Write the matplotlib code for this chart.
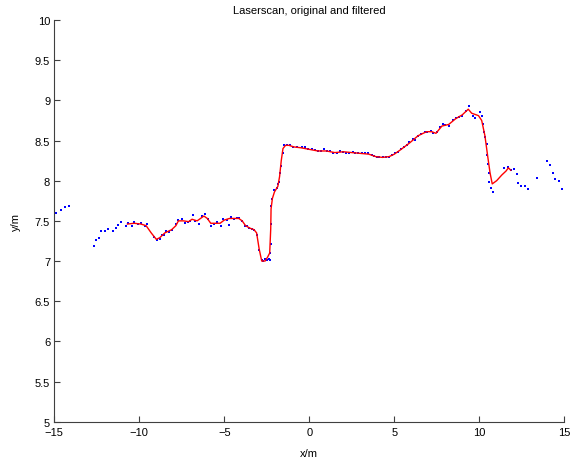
import matplotlib
matplotlib.use('Agg')
import matplotlib.pyplot as plt

# Rohdaten des Laserscans (x, y in Metern)
scan_x = [-14.90, -14.62, -14.39, -14.14,
          -12.66, -12.54, -12.35, -12.23, -12.00, -11.82, -11.55, -11.39, -11.24, -11.08,
          -10.80, -10.65, -10.41, -10.29, -10.06, -9.90, -9.66, -9.53, -9.14, -8.94,
          -8.78, -8.68, -8.55, -8.45, -8.25, -8.06, -7.84, -7.74, -7.51, -7.31,
          -7.15, -7.02, -6.82, -6.72, -6.49, -6.33, -6.14, -5.98, -5.80, -5.59,
          -5.41, -5.21, -5.06, -4.86, -4.72, -4.61, -4.43, -4.27, -4.14, -3.98,
          -3.78, -3.65, -3.53, -3.39, -3.25, -3.09, -2.94, -2.78, -2.71, -2.61,
          -2.51, -2.39, -2.31, -2.31, -2.25, -2.25, -2.27, -2.18, -2.08, -1.92,
          -1.82, -1.76, -1.72, -1.65, -1.56, -1.49, -1.33, -1.14, -0.94, -0.71,
          -0.45, -0.25, -0.06, 0.14, 0.34, 0.49, 0.68, 0.88, 1.02, 1.22,
          1.41, 1.61, 1.81, 1.96, 2.16, 2.36, 2.55, 2.69, 2.88, 3.08,
          3.28, 3.48, 3.67, 3.81, 3.96, 4.12, 4.32, 4.52, 4.71, 4.85,
          5.04, 5.24, 5.39, 5.57, 5.73, 5.88, 6.12, 6.20, 6.38, 6.55,
          6.81, 6.94, 7.14, 7.29, 7.49, 7.69, 7.85, 7.98, 8.24, 8.47,
          8.63, 8.82, 8.96, 9.20, 9.41, 9.61, 9.76, 10.02, 10.14, 10.20,
          10.26, 10.35, 10.44, 10.47, 10.53, 10.57, 10.59, 10.69, 10.82, 11.45,
          11.67, 11.85, 12.06, 12.20, 12.26, 12.45, 12.69, 12.88, 13.38, 14.00,
          14.16, 14.32, 14.47, 14.71, 14.85]
scan_y = [7.60, 7.63, 7.67, 7.69,
          7.19, 7.26, 7.29, 7.37, 7.37, 7.40, 7.37, 7.41, 7.45, 7.49,
          7.44, 7.47, 7.44, 7.49, 7.46, 7.47, 7.43, 7.46, 7.30, 7.26,
          7.28, 7.33, 7.32, 7.37, 7.36, 7.39, 7.46, 7.51, 7.52, 7.47,
          7.49, 7.50, 7.57, 7.50, 7.46, 7.56, 7.58, 7.52, 7.43, 7.46,
          7.49, 7.44, 7.52, 7.51, 7.45, 7.55, 7.52, 7.54, 7.53, 7.50,
          7.43, 7.44, 7.41, 7.40, 7.39, 7.33, 7.14, 7.01, 7.00, 7.03,
          7.01, 7.03, 7.01, 7.10, 7.21, 7.46, 7.68, 7.77, 7.88, 7.91,
          7.96, 7.98, 8.09, 8.18, 8.35, 8.44, 8.45, 8.45, 8.42, 8.42,
          8.42, 8.42, 8.40, 8.40, 8.38, 8.37, 8.37, 8.39, 8.37, 8.37,
          8.35, 8.34, 8.37, 8.36, 8.35, 8.35, 8.36, 8.35, 8.35, 8.35,
          8.34, 8.34, 8.32, 8.31, 8.30, 8.29, 8.30, 8.30, 8.30, 8.32,
          8.34, 8.36, 8.39, 8.42, 8.45, 8.48, 8.52, 8.51, 8.56, 8.58,
          8.61, 8.61, 8.62, 8.59, 8.61, 8.67, 8.70, 8.69, 8.68, 8.75,
          8.78, 8.79, 8.81, 8.87, 8.93, 8.80, 8.78, 8.86, 8.80, 8.71,
          8.60, 8.54, 8.46, 8.32, 8.21, 8.10, 7.98, 7.91, 7.86, 8.16,
          8.17, 8.13, 8.14, 8.08, 7.97, 7.94, 7.93, 7.90, 8.03, 8.25,
          8.19, 8.10, 8.02, 7.99, 7.90]

# gefilterte Kurve
filt_x = [-10.70, -10.30, -9.90, -9.60, -9.30, -9.00, -8.80, -8.50, -8.10, -7.85,
          -7.70, -7.40, -7.10, -6.90, -6.60, -6.40, -6.20, -6.00, -5.80, -5.50,
          -5.25, -5.00, -4.70, -4.40, -4.15, -3.95, -3.75, -3.50, -3.25, -3.10,
          -2.95, -2.80, -2.60, -2.45, -2.33, -2.27, -2.25, -2.17, -2.05, -1.85,
          -1.75, -1.65, -1.55, -1.40, -1.20, -0.90, -0.50, 0.00, 0.50, 1.00,
          1.50, 2.00, 2.50, 3.00, 3.50, 3.90, 4.30, 4.70, 5.00, 5.40,
          5.90, 6.40, 6.90, 7.20, 7.45, 7.80, 8.20, 8.60, 9.00, 9.35,
          9.55, 9.95, 10.14, 10.33, 10.49, 10.63, 10.76, 11.02, 11.32, 11.57,
          11.71, 11.85]
filt_y = [7.46, 7.47, 7.46, 7.44, 7.35, 7.27, 7.29, 7.35, 7.39, 7.44,
          7.50, 7.50, 7.49, 7.52, 7.50, 7.53, 7.56, 7.53, 7.47, 7.47,
          7.47, 7.51, 7.53, 7.53, 7.53, 7.50, 7.44, 7.41, 7.39, 7.35,
          7.15, 7.00, 7.00, 7.05, 7.10, 7.40, 7.65, 7.78, 7.86, 7.93,
          8.05, 8.25, 8.40, 8.44, 8.44, 8.42, 8.41, 8.39, 8.37, 8.37,
          8.35, 8.36, 8.35, 8.34, 8.33, 8.30, 8.29, 8.30, 8.33, 8.39,
          8.47, 8.56, 8.61, 8.61, 8.59, 8.68, 8.70, 8.77, 8.82, 8.89,
          8.84, 8.81, 8.75, 8.56, 8.31, 8.10, 7.96, 8.00, 8.07, 8.12,
          8.16, 8.13]

plt.rcParams['font.family'] = ['Liberation Sans', 'DejaVu Sans']
plt.rcParams['font.size'] = 8

fig = plt.figure(figsize=(5.7, 4.64), dpi=100)
ax = fig.add_axes([0.0953, 0.089, 0.8947, 0.8657])

ax.plot(scan_x, scan_y, 's', color='blue', markersize=2.0, markeredgewidth=0)
ax.plot(filt_x, filt_y, '-', color='red', linewidth=1.0)

ax.set_xlim(-15, 15)
ax.set_ylim(5, 10)
ax.set_xticks(range(-15, 16, 5))
ax.set_yticks([5, 5.5, 6, 6.5, 7, 7.5, 8, 8.5, 9, 9.5, 10])
ax.set_yticklabels(['5', '5.5', '6', '6.5', '7', '7.5', '8', '8.5', '9', '9.5', '10'])

for s in ['top', 'right']:
    ax.spines[s].set_visible(False)
for s in ['left', 'bottom']:
    ax.spines[s].set_color('#404040')
    ax.spines[s].set_linewidth(0.8)
ax.tick_params(direction='in', length=4, width=0.8, color='#404040')
ax.tick_params(axis='x', pad=4)
ax.tick_params(axis='y', pad=3)

ax.set_title('Laserscan, original and filtered', fontsize=8, pad=5)
ax.set_xlabel('x/m', labelpad=8)
ax.set_ylabel('y/m', labelpad=10)

plt.savefig('out.png', dpi=100)
